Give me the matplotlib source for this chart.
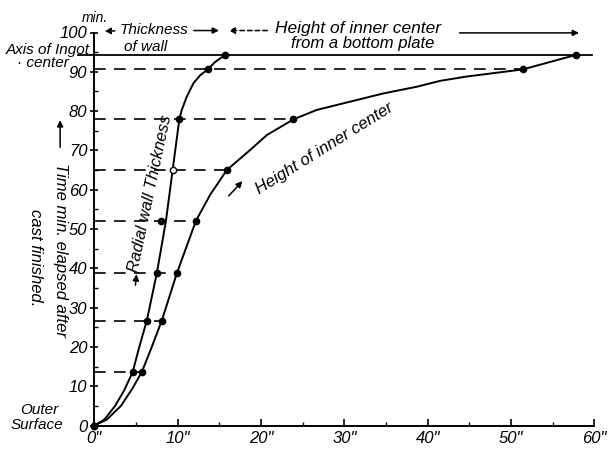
import matplotlib
matplotlib.use('Agg')
import matplotlib.pyplot as plt
from matplotlib.ticker import MultipleLocator, FuncFormatter

plt.rcParams['font.family'] = ['Liberation Sans', 'DejaVu Sans']
plt.rcParams['font.style'] = 'italic'

## time (min) at which the marked readings were taken
times = [0, 13.6, 26.7, 38.7, 52.1, 65.0, 77.9, 90.6, 94.3]
## radial wall thickness (inch) at those times
wallPts = [0, 4.6, 6.3, 7.5, 8.0, 9.4, 10.2, 13.6, 15.7]
## height of inner center (inch) at those times
heightPts = [0, 5.7, 8.1, 9.9, 12.2, 15.9, 23.9, 51.4, 57.8]

## curves (x inch, y min)
wallCurveX = [0, 1.2, 2.5, 3.6, 4.6, 5.4, 6.3, 7.5, 8.6, 9.4, 10.2, 10.5, 11.1, 11.9, 12.7, 13.6, 14.5, 15.7]
wallCurveY = [0, 1.5, 5.0, 9.0, 13.6, 20.0, 26.7, 38.7, 52.1, 65.0, 77.9, 80.3, 83.7, 87.1, 89.1, 90.6, 92.5, 94.3]
heightCurveX = [0, 1.5, 3.2, 4.6, 5.7, 6.9, 8.1, 9.9, 12.2, 13.9, 15.9, 18.7, 20.7, 23.9, 26.7, 30.7,
                34.7, 38.7, 41.5, 44.7, 51.4, 57.8]
heightCurveY = [0, 1.5, 5.0, 9.5, 13.6, 20.0, 26.7, 38.7, 52.1, 58.7, 65.0, 70.1, 73.9, 77.9, 80.3, 82.4,
                84.5, 86.2, 87.7, 88.8, 90.6, 94.3]

ingotAxis = 94.3

fig = plt.figure(figsize=(6.11, 4.5), dpi=100)
ax = fig.add_axes([94.3 / 611, 24.5 / 450, 500 / 611, 393 / 450])

# curves
ax.plot(wallCurveX, wallCurveY, color='black', lw=1.4, clip_on=False)
ax.plot(heightCurveX, heightCurveY, color='black', lw=1.4, clip_on=False)

# readings
for i in range(len(times)):
    face = 'white' if i == 5 else 'black'
    ax.plot(wallPts[i], times[i], 'o', ms=4.5, mfc=face, mec='black', mew=1, clip_on=False, zorder=5)
    ax.plot(heightPts[i], times[i], 'o', ms=4.5, mfc='black', mec='black', clip_on=False, zorder=5)

# dashed guide lines out to the inner center curve
for i in range(1, len(times) - 1):
    end = heightPts[i] + (1.1 if i == 1 else 0)
    ax.plot([0, end], [times[i], times[i]], color='black', lw=1.2, dashes=(7, 5))

# axis of ingot line
ax.plot([-2, 59.7], [ingotAxis, ingotAxis], color='black', lw=1.3, clip_on=False)

ax.set_xlim(0, 60)
ax.set_ylim(0, 100)
for s in ['top', 'right']:
    ax.spines[s].set_visible(False)
ax.spines['left'].set_linewidth(1.4)
ax.spines['bottom'].set_linewidth(1.4)

ax.xaxis.set_major_locator(MultipleLocator(10))
ax.xaxis.set_minor_locator(MultipleLocator(5))
ax.yaxis.set_major_locator(MultipleLocator(10))
ax.yaxis.set_minor_locator(MultipleLocator(5))
ax.xaxis.set_major_formatter(FuncFormatter(lambda v, p: '%d"' % v))
ax.tick_params(axis='x', which='major', direction='in', length=5, width=1.2, labelsize=12, pad=4)
ax.tick_params(axis='x', which='minor', direction='in', length=3, width=1)
ax.tick_params(axis='y', which='major', direction='inout', length=6, width=1.2, labelsize=12, pad=2)
ax.tick_params(axis='y', which='minor', direction='in', length=3, width=1)

tk = dict(fontsize=11, clip_on=False)
# header
ax.text(0.08, 103.7, 'min.', ha='center', va='center', fontsize=10)
ax.text(3.0, 100.6, 'Thickness', ha='left', va='center', **tk)
ax.text(6.2, 96.3, 'of wall', ha='center', va='center', **tk)
ax.text(21.7, 101.1, 'Height of inner center', ha='left', va='center', fontsize=12.5)
ax.text(32.2, 97.2, 'from a bottom plate', ha='center', va='center', fontsize=12)
arw = dict(arrowstyle='-|>', color='black', lw=1.1, mutation_scale=9)
ax.annotate('', xy=(0.9, 100.4), xytext=(2.8, 100.4), arrowprops=dict(arw, linestyle=(0, (3, 2))), annotation_clip=False)
ax.annotate('', xy=(15.3, 100.5), xytext=(11.6, 100.5), arrowprops=arw, annotation_clip=False)
ax.annotate('', xy=(15.8, 100.5), xytext=(21.1, 100.5), arrowprops=dict(arw, linestyle=(0, (3, 2))), annotation_clip=False)
ax.annotate('', xy=(58.5, 99.9), xytext=(43.5, 99.9), arrowprops=arw, annotation_clip=False)

# left side labels
ax.text(-5.6, 95.6, 'Axis of Ingot', ha='center', va='center', **tk)
ax.text(-6.2, 92.2, '· center', ha='center', va='center', **tk)
ax.text(-6.6, 3.9, 'Outer', ha='center', va='center', **tk)
ax.text(-6.9, 0.1, 'Surface', ha='center', va='center', **tk)
ax.text(-4.1, 44.7, 'Time min. elapsed after', rotation=-90, ha='center', va='center', fontsize=12, clip_on=False)
ax.text(-7.1, 42.6, 'cast finished.', rotation=-90, ha='center', va='center', fontsize=12, clip_on=False)
ax.annotate('', xy=(-4.1, 78.4), xytext=(-4.1, 70.1), arrowprops=arw, annotation_clip=False)

# curve labels
ax.text(6.7, 59.0, 'Radial wall Thickness', rotation=78, ha='center', va='center', fontsize=12)
ax.annotate('', xy=(5.1, 39.2), xytext=(4.9, 35.0), arrowprops=arw)
ax.text(27.6, 70.6, 'Height of inner center', rotation=32, ha='center', va='center', fontsize=12)
ax.annotate('', xy=(18.0, 62.7), xytext=(15.9, 57.9), arrowprops=arw)

plt.savefig('out.png', dpi=100)
plt.close(fig)
